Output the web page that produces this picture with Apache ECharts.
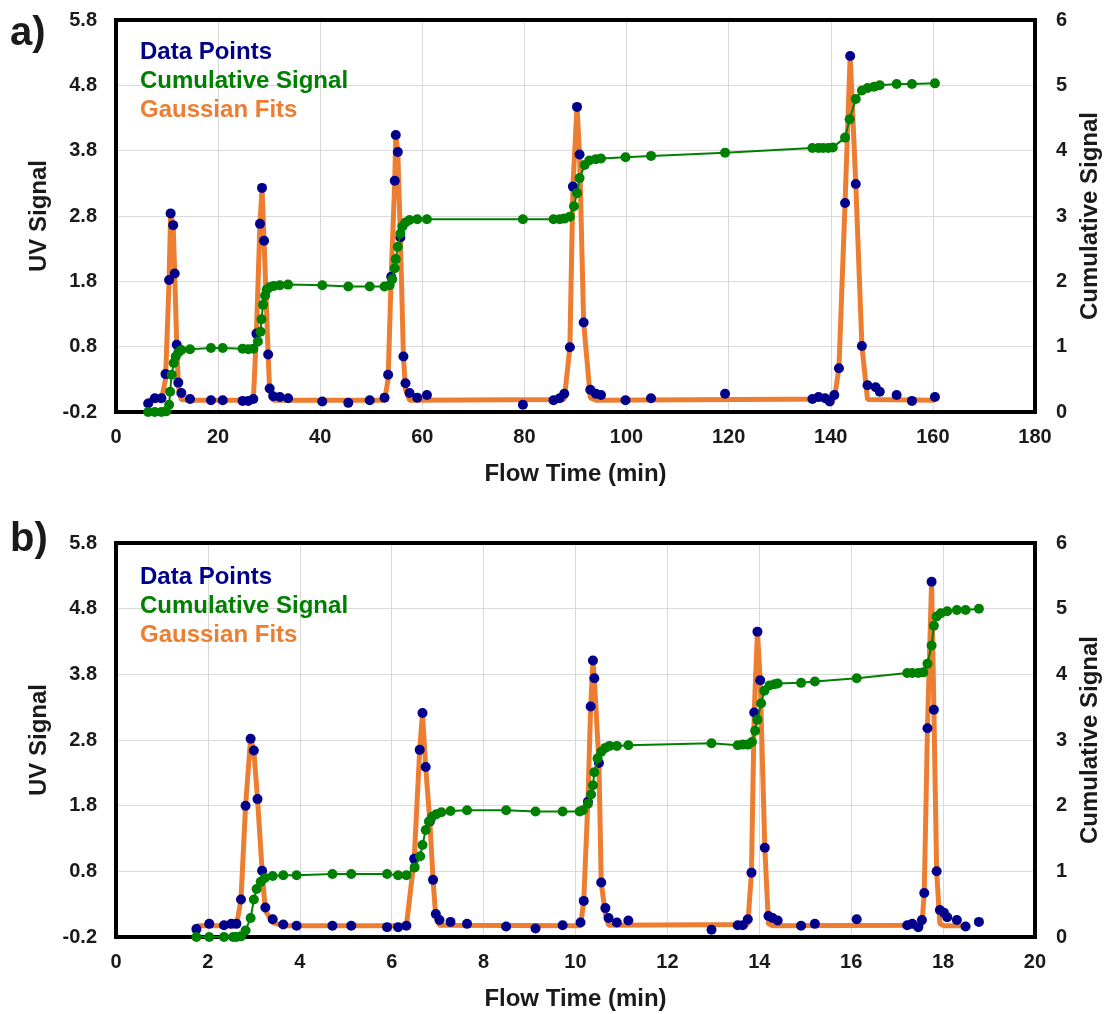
<!DOCTYPE html>
<html>
<head>
<meta charset="utf-8">
<script src="https://cdn.jsdelivr.net/npm/echarts@6/dist/echarts.min.js"></script>
<style>
  html, body { margin: 0; padding: 0; background: #fff; }
  #chart { width: 1110px; height: 1014px; }
</style>
</head>
<body>
<div id="chart"></div>
<script>
// ---- Panel a): flow time in minutes (0–180) ----
const aPointTime = [6.3, 7.6, 8.9, 9.7, 10.4, 10.7, 11.2, 11.5, 11.9, 12.2, 12.8, 14.5, 18.6, 20.9, 24.8, 25.9, 26.9,
  27.5, 28.2, 28.6, 29.0, 29.8, 30.1, 30.8, 32.1, 33.7, 40.4, 45.5, 49.7, 52.6, 53.3, 53.9, 54.6, 54.8, 55.2, 55.7,
  56.3, 56.7, 57.5, 59.0, 60.9, 79.7, 85.7, 86.9, 87.8, 88.9, 89.5, 90.3, 90.8, 91.6, 92.9, 94.0, 95.0, 99.8, 104.8,
  119.3, 136.4, 137.6, 138.9, 139.8, 140.7, 141.6, 142.8, 143.8, 144.9, 146.1, 147.2, 148.8, 149.6, 152.9, 155.9, 160.4];
const aPointUV = [-0.07, 0.01, 0.01, 0.38, 1.82, 2.84, 2.66, 1.92, 0.83, 0.25, 0.09, 0.0, -0.02, -0.02, -0.03, -0.03, 0.0,
  1.0, 2.68, 3.23, 2.42, 0.68, 0.16, 0.04, 0.03, 0.01, -0.04, -0.06, -0.02, 0.02, 0.37, 1.87, 3.34, 4.04, 3.78, 2.47,
  0.65, 0.24, 0.09, 0.02, 0.06, -0.09, -0.02, 0.01, 0.08, 0.79, 3.25, 4.47, 3.74, 1.17, 0.14, 0.08, 0.06, -0.02, 0.01,
  0.08, 0.0, 0.03, 0.01, -0.04, 0.06, 0.47, 3.0, 5.25, 3.29, 0.81, 0.21, 0.18, 0.11, 0.06, -0.03, 0.03];

const aCumTime = [6.3, 7.6, 8.9, 9.8, 10.4, 10.6, 10.9, 11.3, 11.7, 12.2, 12.8, 14.5, 18.6, 20.9, 24.8, 25.9, 26.9,
  27.8, 28.3, 28.5, 28.8, 29.2, 29.5, 30.1, 30.9, 32.1, 33.7, 40.4, 45.5, 49.7, 52.6, 53.6, 54.1, 54.6, 54.8, 55.2,
  55.7, 56.1, 56.7, 57.5, 59.0, 60.9, 79.7, 85.7, 86.9, 87.8, 88.9, 89.7, 90.3, 90.8, 91.8, 92.7, 94.0, 95.0, 99.8,
  104.8, 119.3, 136.4, 137.6, 138.5, 139.5, 140.4, 142.8, 143.7, 144.9, 146.1, 147.2, 148.5, 149.6, 152.9, 155.9, 160.4];
const aCumSignal = [0.0, 0.0, 0.0, 0.01, 0.11, 0.31, 0.57, 0.75, 0.85, 0.91, 0.95, 0.96, 0.98, 0.98, 0.97, 0.96, 0.97,
  1.08, 1.23, 1.42, 1.64, 1.78, 1.87, 1.91, 1.93, 1.94, 1.95, 1.94, 1.92, 1.92, 1.92, 1.94, 2.03, 2.20, 2.34, 2.53,
  2.73, 2.84, 2.90, 2.94, 2.95, 2.95, 2.95, 2.95, 2.95, 2.96, 2.99, 3.15, 3.35, 3.58, 3.78, 3.85, 3.87, 3.88, 3.90,
  3.92, 3.97, 4.04, 4.04, 4.04, 4.04, 4.05, 4.20, 4.48, 4.79, 4.92, 4.96, 4.98, 5.0, 5.02, 5.02, 5.03];

const aFitTime = [6.3, 8.9, 9.7, 10.4, 10.7, 11.2, 11.5, 11.9, 12.2, 12.8, 14.5, 26.9, 27.5, 28.2, 28.6, 29.0, 29.8,
  30.1, 30.8, 52.6, 53.3, 53.9, 54.6, 54.8, 55.2, 55.7, 56.3, 56.7, 57.5, 87.8, 88.9, 89.5, 90.3, 90.8, 91.6, 92.9,
  94.0, 140.7, 141.6, 142.8, 143.8, 144.9, 146.1, 147.2, 160.4];
const aFitUV = [-0.02, -0.02, 0.3, 1.82, 2.84, 2.66, 1.92, 0.83, 0.2, -0.01, -0.02, -0.02, 1.0, 2.68, 3.23, 2.42, 0.68,
  0.12, -0.02, -0.02, 0.3, 1.87, 3.34, 4.04, 3.78, 2.47, 0.65, 0.15, -0.02, -0.01, 0.79, 3.25, 4.47, 3.74, 1.17, 0.02,
  -0.02, 0.0, 0.47, 3.0, 5.25, 3.29, 0.81, -0.01, -0.02];

// ---- Panel b): flow time in minutes (0–20) ----
const bPointTime = [1.75, 2.03, 2.35, 2.51, 2.62, 2.72, 2.82, 2.93, 3.0, 3.08, 3.18, 3.25, 3.41, 3.64, 3.93, 4.71, 5.12,
  5.90, 6.14, 6.32, 6.49, 6.61, 6.67, 6.74, 6.83, 6.90, 6.96, 7.04, 7.28, 7.64, 8.49, 9.13, 9.72, 10.11, 10.18, 10.27,
  10.33, 10.38, 10.41, 10.51, 10.56, 10.65, 10.72, 10.90, 11.15, 12.96, 13.53, 13.64, 13.75, 13.83, 13.89, 13.96,
  14.02, 14.12, 14.20, 14.29, 14.40, 14.91, 15.21, 16.12, 17.22, 17.33, 17.46, 17.54, 17.59, 17.66, 17.75, 17.80,
  17.86, 17.93, 18.02, 18.09, 18.30, 18.49, 18.78];
const bPointUV = [-0.08, 0.0, -0.02, 0.0, 0.0, 0.37, 1.80, 2.82, 2.64, 1.90, 0.81, 0.25, 0.07, -0.01, -0.03, -0.03, -0.03,
  -0.05, -0.05, -0.03, 0.99, 2.65, 3.21, 2.39, 1.56, 0.67, 0.15, 0.06, 0.03, 0.0, -0.04, -0.07, -0.02, 0.02, 0.35, 1.86,
  3.31, 4.01, 3.74, 2.45, 0.63, 0.24, 0.09, 0.02, 0.05, -0.09, -0.02, -0.02, 0.07, 0.78, 3.22, 4.45,
  3.71, 1.16, 0.12, 0.09, 0.05, -0.03, 0.0, 0.07, -0.02, 0.0, -0.05, 0.06, 0.47, 2.98, 5.21, 3.26,
  0.80, 0.21, 0.17, 0.10, 0.06, -0.04, 0.03];

const bCumTime = [1.75, 2.03, 2.35, 2.55, 2.62, 2.72, 2.82, 2.93, 3.0, 3.06, 3.15, 3.24, 3.41, 3.64, 3.93, 4.71, 5.12,
  5.90, 6.14, 6.32, 6.50, 6.62, 6.67, 6.74, 6.81, 6.88, 6.97, 7.08, 7.28, 7.64, 8.49, 9.13, 9.72, 10.09, 10.16, 10.27,
  10.34, 10.38, 10.41, 10.48, 10.56, 10.65, 10.74, 10.90, 11.15, 12.96, 13.53, 13.64, 13.75, 13.84, 13.91, 13.96,
  14.04, 14.11, 14.22, 14.33, 14.40, 14.91, 15.21, 16.12, 17.22, 17.33, 17.46, 17.57, 17.66, 17.75, 17.80, 17.86,
  17.95, 18.09, 18.30, 18.49, 18.78];
const bCumSignal = [0.0, 0.0, 0.0, 0.0, 0.0, 0.01, 0.10, 0.29, 0.57, 0.73, 0.84, 0.90, 0.93, 0.94, 0.94, 0.96, 0.96,
  0.96, 0.94, 0.94, 1.06, 1.23, 1.40, 1.63, 1.76, 1.83, 1.87, 1.90, 1.92, 1.93, 1.93, 1.91, 1.91, 1.91, 1.93, 2.03,
  2.17, 2.31, 2.51, 2.72, 2.82, 2.88, 2.91, 2.91, 2.92, 2.95, 2.92, 2.93, 2.93, 2.97, 3.14, 3.31,
  3.56, 3.75, 3.83, 3.85, 3.86, 3.87, 3.89, 3.94, 4.02, 4.02, 4.02, 4.03, 4.16, 4.44, 4.74, 4.88,
  4.93, 4.96, 4.98, 4.98, 5.0];

const bFitTime = [1.75, 2.62, 2.72, 2.82, 2.93, 3.0, 3.08, 3.18, 3.25, 3.41, 3.64, 6.32, 6.49, 6.61, 6.67, 6.74, 6.83,
  6.90, 6.96, 7.04, 10.11, 10.18, 10.27, 10.33, 10.38, 10.41, 10.51, 10.56, 10.65, 10.72, 13.75, 13.83, 13.89, 13.96,
  14.02, 14.12, 14.20, 14.29, 17.54, 17.59, 17.66, 17.75, 17.80, 17.86, 17.93, 18.02, 18.49];
const bFitUV = [-0.03, -0.03, 0.37, 1.80, 2.82, 2.64, 1.90, 0.81, 0.2, 0.02, -0.03, -0.03, 0.99, 2.65, 3.21, 2.39, 1.56,
  0.67, 0.1, -0.02, -0.03, 0.35, 1.86, 3.31, 4.01, 3.74, 2.45, 0.63, 0.15, -0.02, -0.01, 0.78, 3.22, 4.45,
  3.71, 1.16, 0.0, -0.03, -0.02, 0.47, 2.98, 5.21, 3.26, 0.80, 0.0, -0.03, -0.03];

// ---- Axis ticks ----
const uvTicks = [-0.2, 0.8, 1.8, 2.8, 3.8, 4.8, 5.8];
const cumTicks = [0, 1, 2, 3, 4, 5, 6];
const aTimeRange = [0, 180, 20];
const bTimeRange = [0, 20, 2];

const seriesNames = ['Data Points', 'Cumulative Signal', 'Gaussian Fits'];
const colors = { points: '#00008B', cum: '#008000', fit: '#ED7D31' };

const FONT = '"Liberation Sans", Arial, sans-serif';
const pair = (xs, ys) => xs.map((x, i) => [x, ys[i]]);

const panels = [
  { top: 20, height: 392, time: aTimeRange, pts: [aPointTime, aPointUV], cum: [aCumTime, aCumSignal], fit: [aFitTime, aFitUV], legendTop: 35 },
  { top: 543, height: 394, time: bTimeRange, pts: [bPointTime, bPointUV], cum: [bCumTime, bCumSignal], fit: [bFitTime, bFitUV], legendTop: 560 }
];

// frame edges are drawn by the four axis lines, kept at the grid borders
const borderLine = { show: true, onZero: false, lineStyle: { color: '#000', width: 4, cap: 'square' } };
const gridLine = { show: true, lineStyle: { color: '#d9d9d9', width: 1 } };
const tickFont = { fontFamily: FONT, fontWeight: 'bold', fontSize: 20, color: '#1a1a1a' };
const nameFont = { fontFamily: FONT, fontWeight: 'bold', fontSize: 24, color: '#1a1a1a' };

const grid = [], xAxis = [], yAxis = [], series = [], legend = [];

panels.forEach((p, g) => {
  grid.push({ left: 116, top: p.top, width: 920, height: p.height, containLabel: false });

  // bottom time axis
  xAxis.push({
    type: 'value', gridIndex: g, position: 'bottom',
    min: p.time[0], max: p.time[1], interval: p.time[2],
    axisLine: borderLine, axisTick: { show: false },
    axisLabel: Object.assign({ margin: 15 }, tickFont),
    splitLine: gridLine,
    name: 'Flow Time (min)', nameLocation: 'middle', nameGap: 50, nameTextStyle: nameFont
  });
  // top frame edge
  xAxis.push({
    type: 'value', gridIndex: g, position: 'top',
    min: p.time[0], max: p.time[1], interval: p.time[2],
    axisLine: borderLine, axisTick: { show: false }, axisLabel: { show: false }, splitLine: { show: false }
  });

  // left UV axis
  yAxis.push({
    type: 'value', gridIndex: g, position: 'left',
    min: uvTicks[0], max: uvTicks[uvTicks.length - 1],
    axisLine: borderLine, axisTick: { show: false },
    axisLabel: Object.assign({ margin: 19, customValues: uvTicks, formatter: v => v.toFixed(1) }, tickFont),
    splitLine: { show: false },
    name: 'UV Signal', nameLocation: 'middle', nameRotate: 90, nameGap: 64, nameTextStyle: nameFont
  });
  // right cumulative axis
  yAxis.push({
    type: 'value', gridIndex: g, position: 'right',
    min: cumTicks[0], max: cumTicks[cumTicks.length - 1], interval: 1,
    axisLine: borderLine, axisTick: { show: false },
    axisLabel: Object.assign({ margin: 21 }, tickFont),
    splitLine: gridLine,
    name: 'Cumulative Signal', nameLocation: 'middle', nameRotate: 90, nameGap: 42, nameTextStyle: nameFont
  });

  const xi = g * 2, yl = g * 2, yr = g * 2 + 1;
  series.push({
    name: 'Gaussian Fits', type: 'line', xAxisIndex: xi, yAxisIndex: yl, z: 2,
    data: pair(p.fit[0], p.fit[1]), showSymbol: false, symbol: 'none',
    lineStyle: { color: colors.fit, width: 5 }, itemStyle: { color: colors.fit }
  });
  series.push({
    name: 'Data Points', type: 'scatter', xAxisIndex: xi, yAxisIndex: yl, z: 3,
    data: pair(p.pts[0], p.pts[1]), symbol: 'circle', symbolSize: 10,
    itemStyle: { color: colors.points, opacity: 1 }
  });
  series.push({
    name: 'Cumulative Signal', type: 'line', xAxisIndex: xi, yAxisIndex: yr, z: 4,
    data: pair(p.cum[0], p.cum[1]), symbol: 'circle', symbolSize: 10, showAllSymbol: true,
    lineStyle: { color: colors.cum, width: 2 }, itemStyle: { color: colors.cum, borderWidth: 0 }
  });

  legend.push({
    left: 130, top: p.legendTop, orient: 'vertical', itemGap: 5,
    icon: 'none', itemWidth: 0, itemHeight: 14, selectedMode: false, padding: 5,
    textStyle: { fontFamily: FONT, fontWeight: 'bold', fontSize: 24 },
    data: [
      { name: seriesNames[0], textStyle: { color: colors.points } },
      { name: seriesNames[1], textStyle: { color: colors.cum } },
      { name: seriesNames[2], textStyle: { color: colors.fit } }
    ]
  });
});

const chart = echarts.init(document.getElementById('chart'), null, { renderer: 'canvas' });
chart.setOption({
  animation: false,
  backgroundColor: '#fff',
  grid, xAxis, yAxis, series, legend,
  graphic: [
    { type: 'text', left: 10, top: 14, style: { text: 'a)', font: 'bold 40px ' + FONT, fill: '#1a1a1a' } },
    { type: 'text', left: 10, top: 520, style: { text: 'b)', font: 'bold 40px ' + FONT, fill: '#1a1a1a' } }
  ]
});
</script>
</body>
</html>
